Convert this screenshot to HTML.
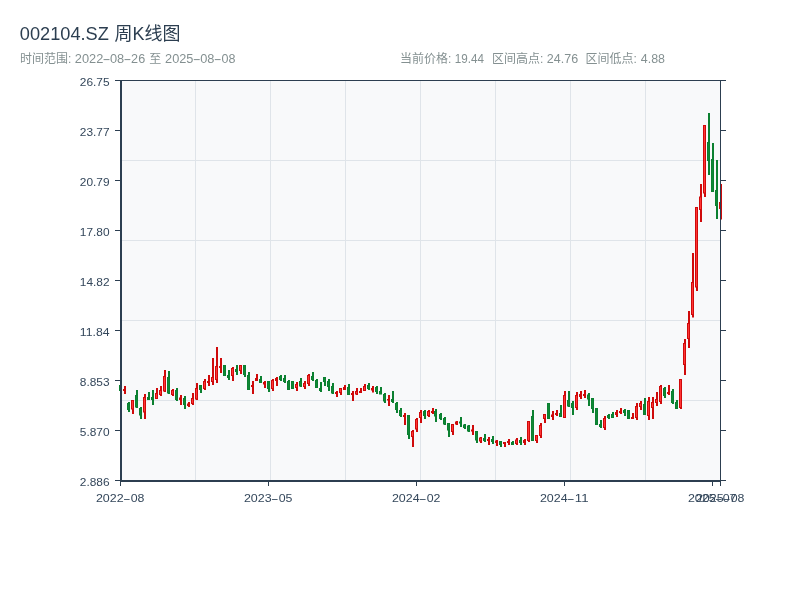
<!DOCTYPE html>
<html lang="zh"><head><meta charset="utf-8"><title>002104.SZ 周K线图</title>
<style>
html,body{margin:0;padding:0;background:#fff;}
body{width:800px;height:600px;overflow:hidden;font-family:"Liberation Sans","Noto Sans CJK SC",sans-serif;}
svg{display:block}
text{font-family:"Liberation Sans","Noto Sans CJK SC",sans-serif;}
.t{font-size:18px;fill:#2c3e50}
.s{font-size:12px;fill:#849091}
.a{font-size:11px;fill:#34475b}
</style></head><body>
<svg width="800" height="600" viewBox="0 0 800 600">
<rect width="800" height="600" fill="#fff"/>
<text class="t" y="40"><tspan x="19.79" textLength="89.04" lengthAdjust="spacingAndGlyphs">002104.SZ</tspan><tspan x="109.5"> </tspan><tspan x="114.5">周K线图</tspan></text>
<text class="s" y="63"><tspan x="20">时间范围: </tspan><tspan x="74.86" textLength="28.48" lengthAdjust="spacingAndGlyphs">2022</tspan><tspan x="102.6" textLength="8" lengthAdjust="spacingAndGlyphs">-</tspan><tspan x="109.97" textLength="14.23" lengthAdjust="spacingAndGlyphs">08</tspan><tspan x="123.62" textLength="7.87" lengthAdjust="spacingAndGlyphs">-</tspan><tspan x="131.12" textLength="14.07" lengthAdjust="spacingAndGlyphs">26</tspan><tspan x="146"> </tspan><tspan x="149.2">至</tspan><tspan x="161.5"> </tspan><tspan x="165.06" textLength="28.37" lengthAdjust="spacingAndGlyphs">2025</tspan><tspan x="192.8" textLength="8" lengthAdjust="spacingAndGlyphs">-</tspan><tspan x="200.17" textLength="14.23" lengthAdjust="spacingAndGlyphs">08</tspan><tspan x="213.82" textLength="7.87" lengthAdjust="spacingAndGlyphs">-</tspan><tspan x="221.43" textLength="13.96" lengthAdjust="spacingAndGlyphs">08</tspan></text>
<text class="s" y="63"><tspan x="400">当前价格: </tspan><tspan x="454.72" textLength="29.2" lengthAdjust="spacingAndGlyphs">19.44</tspan></text>
<text class="s" y="63"><tspan x="492">区间高点: </tspan><tspan x="546.88" textLength="31.28" lengthAdjust="spacingAndGlyphs">24.76</tspan></text>
<text class="s" y="63"><tspan x="585.5">区间低点: </tspan><tspan x="640.79" textLength="24.19" lengthAdjust="spacingAndGlyphs">4.88</tspan></text>
<rect x="121" y="81" width="599" height="399" fill="#f8f9fa"/>
<path d="M195.5 81V480M270.5 81V480M345.5 81V480M420.5 81V480M495.5 81V480M570.5 81V480M645.5 81V480M121 160.5H720M121 240.5H720M121 320.5H720M121 400.5H720" stroke="#dfe4e9" stroke-width="1" fill="none"/>
<g id="k">
<path d="M124 386h2V394h-2zM132 400h2V414h-2zM144 394h2V419h-2zM156 388h2V399h-2zM160 386h2V396h-2zM164 370h2V392h-2zM172 389h2V396h-2zM180 395h2V405h-2zM188 402h2V407h-2zM192 393h2V405h-2zM196 383h2V400h-2zM204 379h2V390h-2zM208 375h2V386h-2zM212 358h2V385h-2zM216 347h2V383h-2zM220 358h2V373h-2zM232 367h2V381h-2zM240 365h2V374h-2zM252 381h2V394h-2zM256 374h2V381h-2zM264 381h2V388h-2zM272 379h2V391h-2zM276 377h2V386h-2zM296 382h2V391h-2zM304 381h2V389h-2zM308 374h2V386h-2zM336 391h2V397h-2zM340 388h2V395h-2zM344 385h2V390h-2zM352 391h2V401h-2zM356 388h2V395h-2zM360 388h2V393h-2zM364 384h2V391h-2zM372 386h2V392.5h-2zM388 395h2V406h-2zM404 413h2V425h-2zM412 430h2V447h-2zM416 418h2V432h-2zM420 410h2V423h-2zM428 410h2V417h-2zM432 408h2V414h-2zM452 424h2V435h-2zM456 421h2V425h-2zM472 425h2V435h-2zM480 437h2V443h-2zM488 437h2V445h-2zM496 440h2V446h-2zM504 442h2V447h-2zM508 439h2V445h-2zM516 438h2V445h-2zM524 439h2V445h-2zM528 421h2V442h-2zM536 435h2V443h-2zM540 423h2V438h-2zM544 414h2V423h-2zM552 411h2V420h-2zM556 410h2V416h-2zM564 391h2V418h-2zM576 392h2V410h-2zM580 391h2V399h-2zM584 390h2V398h-2zM604 416h2V430h-2zM616 410h2V417h-2zM620 408h2V414h-2zM632 413h2V419h-2zM636 403h2V420h-2zM640 401h2V410h-2zM648 397h2V420h-2zM652 397h2V419h-2zM656 392h2V406h-2zM660 385h2V404h-2zM668 385h2V395h-2zM680 379h2V409h-2zM684 339h2V375h-2zM688 311h2V348h-2zM692 253h2V317.5h-2zM696 207h2V291h-2zM700 184h2V222h-2zM704 125h2V197h-2zM720 184h2V219.5h-2zM123 389h3V391h-3zM131 400h3V409.5h-3zM143 397h3V412.5h-3zM155 393h3V399h-3zM159 390h3V395h-3zM163 376h3V391.5h-3zM171 390h3V395h-3zM179 397.5h3V400h-3zM187 403.5h3V406h-3zM191 398h3V404h-3zM195 388h3V399.5h-3zM203 381h3V389h-3zM207 381h3V383h-3zM211 377h3V382h-3zM215 366h3V380h-3zM219 366h3V368h-3zM231 368h3V376h-3zM239 365h3V371h-3zM251 385h3V387h-3zM255 378h3V381h-3zM263 382h3V384.5h-3zM271 380h3V389h-3zM275 378h3V381h-3zM295 384h3V388h-3zM303 383h3V387h-3zM307 375h3V384h-3zM335 392h3V394h-3zM339 388h3V393h-3zM343 387h3V390h-3zM351 393h3V395h-3zM355 391h3V394.5h-3zM359 391h3V393h-3zM363 386h3V391h-3zM371 388h3V390.5h-3zM387 399h3V400.5h-3zM403 415h3V417h-3zM411 431h3V437h-3zM415 419h3V429.5h-3zM419 412h3V418h-3zM427 411h3V416h-3zM431 411h3V413h-3zM451 424h3V432h-3zM455 421.5h3V424.5h-3zM471 429.5h3V431.5h-3zM479 437.5h3V441.5h-3zM487 439h3V441h-3zM495 440.5h3V443h-3zM503 442h3V444h-3zM507 441h3V443h-3zM515 439.5h3V444h-3zM523 440h3V443h-3zM527 421h3V441h-3zM535 435h3V441h-3zM539 425h3V436h-3zM543 414h3V419h-3zM551 414.5h3V417h-3zM555 413h3V415h-3zM563 395h3V418h-3zM575 395h3V408h-3zM579 394h3V397h-3zM583 394h3V396h-3zM603 418h3V428h-3zM615 412h3V415h-3zM619 411h3V413h-3zM631 417h3V419h-3zM635 406h3V418h-3zM639 403h3V407h-3zM647 401h3V416h-3zM651 402h3V408h-3zM655 399h3V403h-3zM659 386h3V402h-3zM667 392h3V394h-3zM679 379h3V408h-3zM683 343h3V365h-3zM687 323h3V339h-3zM691 282h3V315h-3zM695 207h3V287.5h-3zM699 196.5h3V210h-3zM703 125h3V193.5h-3zM719 202h3V209h-3z" fill="#cf0a0a"/>
<path d="M132 401h1V408.5h-1zM144 398h1V411.5h-1zM156 394h1V398h-1zM160 391h1V394h-1zM164 377h1V390.5h-1zM172 391h1V394h-1zM192 399h1V403h-1zM196 389h1V398.5h-1zM204 382h1V388h-1zM212 378h1V381h-1zM216 367h1V379h-1zM232 369h1V375h-1zM240 366h1V370h-1zM272 381h1V388h-1zM296 385h1V387h-1zM304 384h1V386h-1zM308 376h1V383h-1zM340 389h1V392h-1zM356 392h1V393.5h-1zM364 387h1V390h-1zM412 432h1V436h-1zM416 420h1V428.5h-1zM420 413h1V417h-1zM428 412h1V415h-1zM452 425h1V431h-1zM480 438.5h1V440.5h-1zM516 440.5h1V443h-1zM528 422h1V440h-1zM536 436h1V440h-1zM540 426h1V435h-1zM544 415h1V418h-1zM564 396h1V417h-1zM576 396h1V407h-1zM604 419h1V427h-1zM636 407h1V417h-1zM640 404h1V406h-1zM648 402h1V415h-1zM652 403h1V407h-1zM656 400h1V402h-1zM660 387h1V401h-1zM680 380h1V407h-1zM684 344h1V364h-1zM688 324h1V338h-1zM692 283h1V314h-1zM696 208h1V286.5h-1zM700 197.5h1V209h-1zM704 126h1V192.5h-1zM720 203h1V208h-1z" fill="#ff3535"/>
<path d="M120 385h2V391h-2zM128 402h2V412h-2zM136 390h2V408h-2zM140 407h2V419h-2zM148 392h2V400h-2zM152 390h2V405h-2zM168 371h2V394h-2zM176 388h2V401h-2zM184 396h2V409h-2zM200 385h2V393h-2zM224 365h2V376h-2zM228 370h2V380h-2zM236 365h2V375h-2zM244 365h2V377h-2zM248 372h2V390h-2zM260 376h2V383h-2zM268 381h2V392h-2zM280 375h2V381h-2zM284 375h2V383h-2zM288 380h2V390h-2zM292 381h2V389h-2zM300 378h2V387h-2zM312 372h2V381h-2zM316 379h2V388h-2zM320 382h2V392h-2zM324 377h2V386h-2zM328 379h2V391h-2zM332 383h2V394h-2zM348 384h2V395h-2zM368 383h2V390h-2zM376 386h2V394h-2zM380 387h2V394.5h-2zM384 393h2V403h-2zM392 391h2V403h-2zM396 402h2V413h-2zM400 408h2V417h-2zM408 415h2V439h-2zM424 410h2V419h-2zM435 409h2V422h-2zM440 413h2V420h-2zM444 417h2V425h-2zM448 423h2V437h-2zM460 417h2V427h-2zM464 424h2V429h-2zM468 425h2V432h-2zM476 431h2V443h-2zM484 434h2V442h-2zM492 436h2V444h-2zM500 441h2V447h-2zM512 441h2V445h-2zM520 437h2V445h-2zM532 410h2V441h-2zM548 403h2V419h-2zM560 405h2V417h-2zM568 391h2V407h-2zM572 401h2V415h-2zM588 393h2V406h-2zM592 398h2V413h-2zM596 408h2V425h-2zM600 420h2V428h-2zM608 414h2V419h-2zM612 412h2V418h-2zM624 409h2V416h-2zM628 410h2V419h-2zM644 398h2V415h-2zM664 387h2V398h-2zM672 389h2V404h-2zM676 400h2V409h-2zM708 113h2V175h-2zM712 143h2V192h-2zM716 160h2V219h-2zM119 385h3V391h-3zM127 403h3V410h-3zM135 395h3V407.5h-3zM139 408h3V415.5h-3zM147 397h3V400h-3zM151 397h3V400h-3zM167 377h3V393.5h-3zM175 390h3V400h-3zM183 398h3V405h-3zM199 385h3V390h-3zM223 365h3V376h-3zM227 375h3V378h-3zM235 369h3V372h-3zM243 365h3V375h-3zM247 375h3V390h-3zM259 379h3V383h-3zM267 381h3V389h-3zM279 376h3V380h-3zM283 378h3V382h-3zM287 381h3V390h-3zM291 381h3V389h-3zM299 381h3V386.5h-3zM311 376h3V380h-3zM315 380h3V388h-3zM319 388h3V391h-3zM323 377h3V382h-3zM327 381h3V387h-3zM331 386h3V393.5h-3zM347 387h3V395h-3zM367 385h3V389h-3zM375 387h3V392h-3zM379 391h3V394.5h-3zM383 394h3V401.5h-3zM391 399h3V402h-3zM395 403h3V410h-3zM399 410h3V416h-3zM407 415h3V435h-3zM423 411h3V416h-3zM434 411h3V416.5h-3zM439 414h3V419h-3zM443 418h3V424.5h-3zM447 423h3V430.5h-3zM459 421.5h3V423.5h-3zM463 424.5h3V428h-3zM467 425.5h3V431.5h-3zM475 431h3V440.5h-3zM483 438h3V441h-3zM491 439h3V442h-3zM499 441h3V445h-3zM511 442h3V445h-3zM519 440h3V443h-3zM531 416h3V441h-3zM547 403h3V419h-3zM559 413h3V417h-3zM567 400h3V406.5h-3zM571 403h3V408h-3zM587 394.5h3V399.5h-3zM591 398h3V409h-3zM595 408h3V425h-3zM599 424h3V427h-3zM607 415h3V418h-3zM611 414h3V418h-3zM623 410h3V413h-3zM627 410h3V419h-3zM643 404h3V415h-3zM663 388h3V396h-3zM671 391h3V403h-3zM675 402h3V409h-3zM707 142h3V161h-3zM711 159h3V192h-3zM715 190h3V206h-3z" fill="#0b8030"/>
<path d="M120 386h1V390h-1zM128 404h1V409h-1zM136 396h1V406.5h-1zM140 409h1V414.5h-1zM168 378h1V392.5h-1zM176 391h1V399h-1zM184 399h1V404h-1zM200 386h1V389h-1zM224 366h1V375h-1zM244 366h1V374h-1zM248 376h1V389h-1zM260 380h1V382h-1zM268 382h1V388h-1zM280 377h1V379h-1zM284 379h1V381h-1zM288 382h1V389h-1zM292 382h1V388h-1zM300 382h1V385.5h-1zM312 377h1V379h-1zM316 381h1V387h-1zM324 378h1V381h-1zM328 382h1V386h-1zM332 387h1V392.5h-1zM348 388h1V394h-1zM368 386h1V388h-1zM376 388h1V391h-1zM380 392h1V393.5h-1zM384 395h1V400.5h-1zM396 404h1V409h-1zM400 411h1V415h-1zM408 416h1V434h-1zM424 412h1V415h-1zM435 412h1V415.5h-1zM440 415h1V418h-1zM444 419h1V423.5h-1zM448 424h1V429.5h-1zM464 425.5h1V427h-1zM468 426.5h1V430.5h-1zM476 432h1V439.5h-1zM500 442h1V444h-1zM532 417h1V440h-1zM548 404h1V418h-1zM560 414h1V416h-1zM568 401h1V405.5h-1zM572 404h1V407h-1zM588 395.5h1V398.5h-1zM592 399h1V408h-1zM596 409h1V424h-1zM612 415h1V417h-1zM628 411h1V418h-1zM644 405h1V414h-1zM664 389h1V395h-1zM672 392h1V402h-1zM676 403h1V408h-1zM708 143h1V160h-1zM712 160h1V191h-1zM716 191h1V205h-1z" fill="#0f8836"/>
</g>
<path d="M121 80V482" stroke="#2c3e50" stroke-width="2" fill="none"/>
<path d="M120 481H721" stroke="#2c3e50" stroke-width="2" fill="none"/>
<path d="M120 80.5H721M720.5 80V481" stroke="#2c3e50" stroke-width="1" fill="none"/>
<text class="a" x="79.85" y="86.0" textLength="29.76" lengthAdjust="spacingAndGlyphs">26.75</text>
<text class="a" x="79.85" y="136.0" textLength="29.76" lengthAdjust="spacingAndGlyphs">23.77</text>
<text class="a" x="79.85" y="186.0" textLength="29.76" lengthAdjust="spacingAndGlyphs">20.79</text>
<text class="a" x="79.85" y="236.0" textLength="29.76" lengthAdjust="spacingAndGlyphs">17.80</text>
<text class="a" x="79.85" y="286.0" textLength="29.76" lengthAdjust="spacingAndGlyphs">14.82</text>
<text class="a" x="79.85" y="336.0" textLength="29.76" lengthAdjust="spacingAndGlyphs">11.84</text>
<text class="a" x="79.85" y="386.0" textLength="29.76" lengthAdjust="spacingAndGlyphs">8.853</text>
<text class="a" x="79.85" y="436.0" textLength="29.76" lengthAdjust="spacingAndGlyphs">5.870</text>
<text class="a" x="79.85" y="486.0" textLength="29.76" lengthAdjust="spacingAndGlyphs">2.886</text>
<text class="a" y="502"><tspan x="95.92" textLength="27.74" lengthAdjust="spacingAndGlyphs">2022</tspan><tspan x="123.06" textLength="7.62" lengthAdjust="spacingAndGlyphs">-</tspan><tspan x="130.75" textLength="13.75" lengthAdjust="spacingAndGlyphs">08</tspan></text>
<text class="a" y="502"><tspan x="243.92" textLength="27.74" lengthAdjust="spacingAndGlyphs">2023</tspan><tspan x="271.06" textLength="7.62" lengthAdjust="spacingAndGlyphs">-</tspan><tspan x="278.75" textLength="13.75" lengthAdjust="spacingAndGlyphs">05</tspan></text>
<text class="a" y="502"><tspan x="391.92" textLength="27.74" lengthAdjust="spacingAndGlyphs">2024</tspan><tspan x="419.06" textLength="7.62" lengthAdjust="spacingAndGlyphs">-</tspan><tspan x="426.75" textLength="13.75" lengthAdjust="spacingAndGlyphs">02</tspan></text>
<text class="a" y="502"><tspan x="539.92" textLength="27.74" lengthAdjust="spacingAndGlyphs">2024</tspan><tspan x="567.06" textLength="7.62" lengthAdjust="spacingAndGlyphs">-</tspan><tspan x="574.75" textLength="13.75" lengthAdjust="spacingAndGlyphs">11</tspan></text>
<text class="a" y="502"><tspan x="687.92" textLength="27.74" lengthAdjust="spacingAndGlyphs">2025</tspan><tspan x="715.06" textLength="7.62" lengthAdjust="spacingAndGlyphs">-</tspan><tspan x="722.75" textLength="13.75" lengthAdjust="spacingAndGlyphs">07</tspan></text>
<text class="a" y="502"><tspan x="695.92" textLength="27.74" lengthAdjust="spacingAndGlyphs">2025</tspan><tspan x="723.06" textLength="7.62" lengthAdjust="spacingAndGlyphs">-</tspan><tspan x="730.75" textLength="13.75" lengthAdjust="spacingAndGlyphs">08</tspan></text>
<path d="M115 80.5H120M721 80.5H726M115 130.5H120M721 130.5H726M115 180.5H120M721 180.5H726M115 230.5H120M721 230.5H726M115 280.5H120M721 280.5H726M115 330.5H120M721 330.5H726M115 380.5H120M721 380.5H726M115 430.5H120M721 430.5H726M115 480.5H120M721 480.5H726M120.5 482V486M268.5 482V486M416.5 482V486M564.5 482V486M712.5 482V486M720.5 482V486" stroke="#2c3e50" stroke-width="1" fill="none"/>
</svg></body></html>
